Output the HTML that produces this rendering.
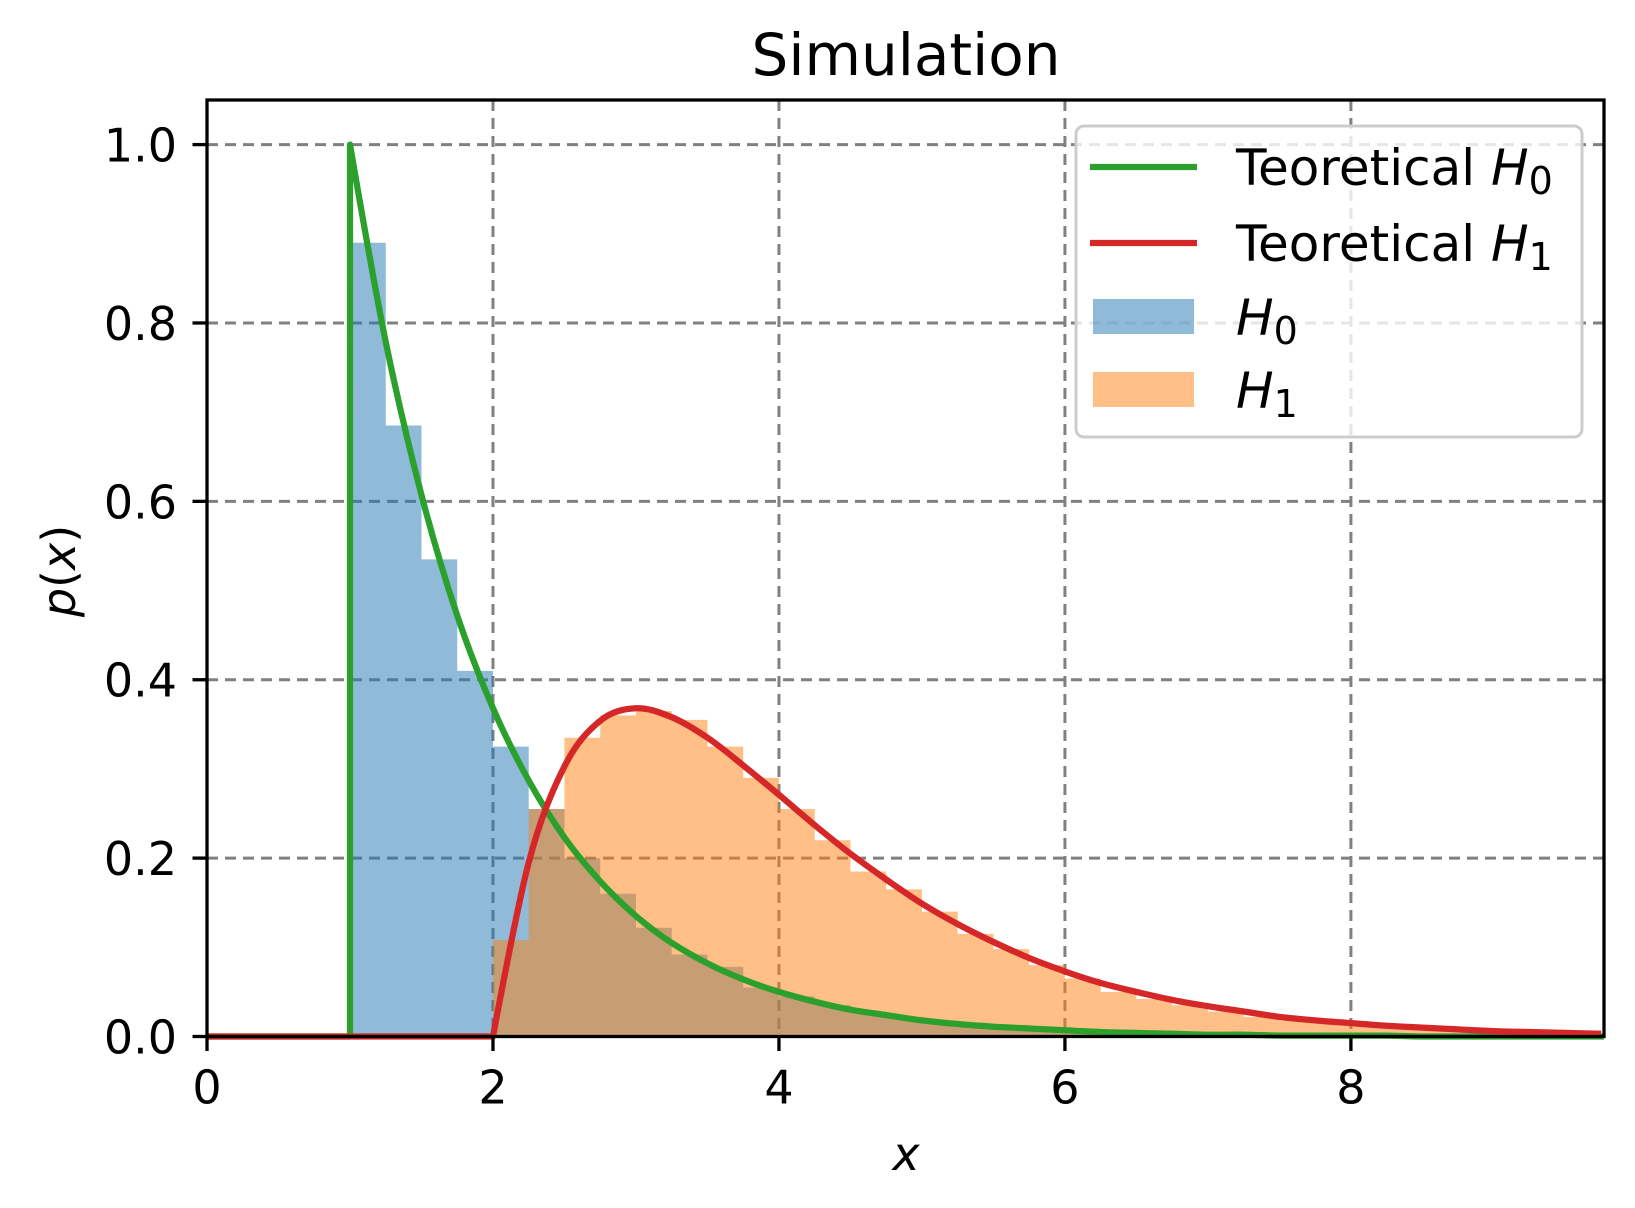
<!DOCTYPE html>
<html><head><meta charset="utf-8"><style>
html,body{margin:0;padding:0;background:#fff}
svg{display:block;font-family:"DejaVu Sans","Liberation Sans",sans-serif}
</style></head><body>
<svg id="chart" width="1635" height="1208" viewBox="0 0 1635 1208">
<rect width="1635" height="1208" fill="#fff"/>
<g id="grid"></g>
<g id="bars"></g>
<g id="lines"></g>
<g id="axes"></g>
<text x="906" y="75" font-size="58" text-anchor="middle">Simulation</text>
<text x="906" y="1170" font-size="46" font-style="italic" text-anchor="middle">x</text>
<text transform="translate(75,571) rotate(-90)" font-size="46" text-anchor="middle"><tspan font-style="italic">p</tspan>(<tspan font-style="italic">x</tspan>)</text>
<g id="legend">
<rect x="1076" y="126" width="506" height="311" rx="8" fill="#fff" fill-opacity="0.8" stroke="#ccc" stroke-width="3"/>
<g><line x1="1090" y1="167" x2="1197" y2="167" stroke="#2ca02c" stroke-width="6.25"/><text x="1236" y="185" font-size="50">Teoretical <tspan font-style="italic">H</tspan><tspan font-size="38" dy="9">0</tspan></text></g>
<g><line x1="1090" y1="243" x2="1197" y2="243" stroke="#d62728" stroke-width="6.25"/><text x="1236" y="261" font-size="50">Teoretical <tspan font-style="italic">H</tspan><tspan font-size="38" dy="9">1</tspan></text></g>
<g><rect x="1093" y="299" width="101" height="35" fill="#1f77b4" fill-opacity="0.5"/><text x="1236" y="335" font-size="50"><tspan font-style="italic">H</tspan><tspan font-size="38" dy="9">0</tspan></text></g>
<g><rect x="1093" y="372" width="101" height="35" fill="#ff7f0e" fill-opacity="0.5"/><text x="1236" y="408" font-size="50"><tspan font-style="italic">H</tspan><tspan font-size="38" dy="9">1</tspan></text></g>
</g>
</svg>
<script>
const xTicks=[0,2,4,6,8];
const yTicks=[0,0.2,0.4,0.6,0.8,1.0];
const yTickLabels=["0.0","0.2","0.4","0.6","0.8","1.0"];
const binWidth=0.25;
const h0Start=1;
const h0Heights=[0.89,0.685,0.535,0.41,0.325,0.255,0.2,0.16,0.122,0.092,0.078,0.055,0.045,0.035,0.028,0.022,0.017,0.013,0.01,0.008,0.006,0.005,0.004,0.003,0.002,0.002,0.001,0.001,0.001,0.001,0.001];
const h1Start=2;
const h1Heights=[0.108,0.255,0.335,0.36,0.365,0.355,0.325,0.29,0.255,0.22,0.185,0.165,0.14,0.115,0.098,0.08,0.065,0.05,0.042,0.035,0.028,0.022,0.018,0.015,0.012,0.01,0.008,0.006,0.005,0.004,0.003];
const curveStep=0.25;
const h0CurveStart=1;
const h0Curve=[1,0.779,0.607,0.472,0.368,0.287,0.223,0.174,0.135,0.105,0.082,0.064,0.050,0.039,0.030,0.024,0.018,0.014,0.011,0.009,0.007,0.005,0.004,0.003,0.002,0.002,0.001,0.001,0.001,0.001,0,0,0,0,0,0,0,0,0,0];
const h1CurveStart=2;
const h1Curve=[0,0.195,0.303,0.354,0.368,0.358,0.335,0.304,0.271,0.237,0.205,0.176,0.149,0.126,0.106,0.088,0.073,0.060,0.050,0.041,0.034,0.028,0.022,0.018,0.015,0.012,0.010,0.008,0.006,0.005,0.004,0.003];

const NS="http://www.w3.org/2000/svg";
const L=207,R=1604,T=100,B=1036.5;
const XMIN=0,XMAX=9.77,YMIN=0,YMAX=1.05;
const sx=v=>L+(v-XMIN)/(XMAX-XMIN)*(R-L);
const sy=v=>B-(v-YMIN)/(YMAX-YMIN)*(B-T);
function mk(tag,attrs,parent){const e=document.createElementNS(NS,tag);for(const k in attrs)e.setAttribute(k,attrs[k]);parent.appendChild(e);return e;}
const grid=document.getElementById('grid'),bars=document.getElementById('bars'),lines=document.getElementById('lines'),axes=document.getElementById('axes');
xTicks.forEach(v=>{if(v===0)return;const e=mk('line',{x1:sx(v),x2:sx(v),y1:T,y2:B,stroke:'#808080','stroke-width':3,'stroke-dasharray':'11 7'},grid);

});
yTicks.forEach(v=>{if(v===0)return;const e=mk('line',{x1:L,x2:R,y1:sy(v),y2:sy(v),stroke:'#808080','stroke-width':3,'stroke-dasharray':'11 7'},grid);

});
function hist(start,h,color,name){let d='M'+sx(start)+','+sy(0);let last=start;
h.forEach((v,i)=>{const x0=start+i*binWidth;if(x0>=XMAX)return;const xe=Math.min(x0+binWidth,XMAX);
d+=' L'+sx(x0).toFixed(2)+','+sy(v).toFixed(2)+' L'+sx(xe).toFixed(2)+','+sy(v).toFixed(2);last=xe;});
d+=' L'+sx(last)+','+sy(0)+' Z';
const p=mk('path',{d:d,fill:color,'fill-opacity':0.5},bars);

}
hist(h0Start,h0Heights,'#1f77b4','h0-histogram');
hist(h1Start,h1Heights,'#ff7f0e','h1-histogram');
function curve(start,vals,color,name){
const pts=[];vals.forEach((v,i)=>{const x=start+i*curveStep;if(x>XMAX+curveStep)return;pts.push([sx(x),sy(v)]);});
let d='M'+sx(0)+','+sy(0)+' L'+sx(start)+','+sy(0)+' L'+pts[0][0].toFixed(1)+','+pts[0][1].toFixed(1);
for(let i=0;i<pts.length-1;i++){const p0=pts[Math.max(0,i-1)],p1=pts[i],p2=pts[i+1],p3=pts[Math.min(pts.length-1,i+2)];
const c1=i===0?p1:[p1[0]+(p2[0]-p0[0])/6,p1[1]+(p2[1]-p0[1])/6];
const c2=[p2[0]-(p3[0]-p1[0])/6,p2[1]-(p3[1]-p1[1])/6];
d+=' C'+c1[0].toFixed(1)+','+c1[1].toFixed(1)+' '+c2[0].toFixed(1)+','+c2[1].toFixed(1)+' '+p2[0].toFixed(1)+','+p2[1].toFixed(1);}
const p=mk('path',{d:d,fill:'none',stroke:color,'stroke-width':6.25,'stroke-linejoin':'round','stroke-linecap':'butt','clip-path':'url(#plotclip)'},lines);

}
const defs=mk('defs',{},document.getElementById('chart'));
const cp=mk('clipPath',{id:'plotclip'},defs);mk('rect',{x:L-5,y:T,width:R-L+5,height:B-T+5},cp);
curve(h0CurveStart,h0Curve,'#2ca02c','theoretical-h0-line');
curve(h1CurveStart,h1Curve,'#d62728','theoretical-h1-line');
const fr=mk('rect',{x:L,y:T,width:R-L,height:B-T,fill:'none',stroke:'#000','stroke-width':3.3},axes);


xTicks.forEach(v=>{const t=mk('line',{x1:sx(v),x2:sx(v),y1:B,y2:B+14.5,stroke:'#000','stroke-width':3.3},axes);


const s=mk('text',{x:sx(v),y:B+67,'font-size':46,'text-anchor':'middle'},axes);s.textContent=String(v);

});
yTicks.forEach((v,i)=>{const t=mk('line',{x1:L-14.5,x2:L,y1:sy(v),y2:sy(v),stroke:'#000','stroke-width':3.3},axes);


const s=mk('text',{x:L-30,y:sy(v)+17,'font-size':46,'text-anchor':'end'},axes);s.textContent=yTickLabels[i];

});
</script>
</body></html>
